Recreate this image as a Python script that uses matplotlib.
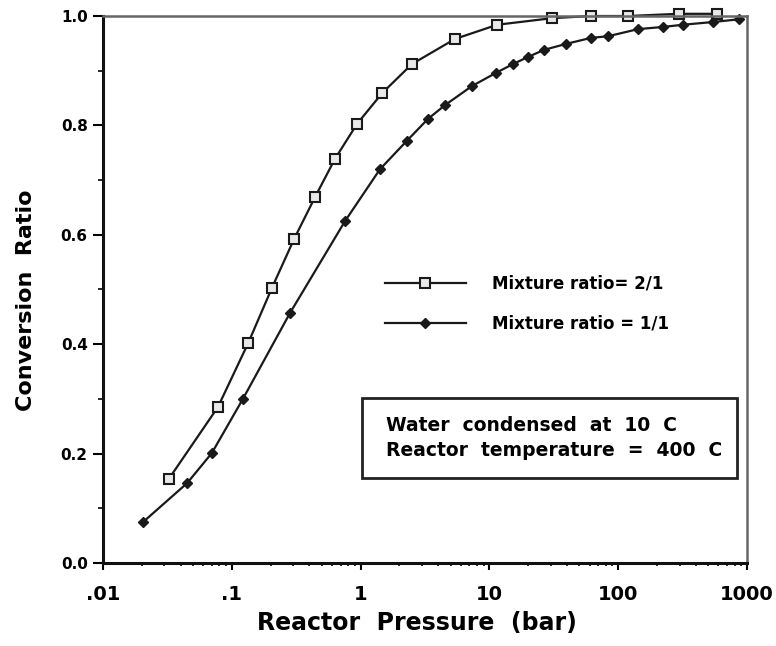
import matplotlib.pyplot as plt
from matplotlib.patches import Rectangle
from matplotlib.ticker import FixedLocator, NullFormatter, MultipleLocator, FixedFormatter

# === Daten ===
p_21 = [0.0325, 0.078, 0.134, 0.205, 0.304, 0.443, 0.633, 0.94, 1.47, 2.5,
        5.4, 11.5, 30.6, 61.5, 119, 297, 585]
conv_21 = [0.154, 0.285, 0.402, 0.503, 0.592, 0.669, 0.739, 0.803, 0.859, 0.912,
           0.958, 0.984, 0.996, 1.0, 1.0, 1.004, 1.004]

p_11 = [0.0205, 0.045, 0.070, 0.122, 0.283, 0.757, 1.415, 2.29, 3.34, 4.52,
        7.33, 11.25, 15.2, 19.9, 26.5, 39.4, 61.5, 83.4, 142.6, 223, 318, 545, 867]
conv_11 = [0.075, 0.146, 0.201, 0.300, 0.457, 0.625, 0.720, 0.772, 0.812, 0.837,
           0.872, 0.896, 0.912, 0.925, 0.938, 0.949, 0.960, 0.963, 0.976, 0.980,
           0.984, 0.989, 0.994]

x_ticks = [0.01, 0.1, 1, 10, 100, 1000]
x_ticklabels = [".01", ".1", "1", "10", "100", "1000"]
y_ticks = [0.0, 0.2, 0.4, 0.6, 0.8, 1.0]
y_ticklabels = ["0.0", "0.2", "0.4", "0.6", "0.8", "1.0"]

label_21 = "Mixture ratio= 2/1"
label_11 = "Mixture ratio = 1/1"
note_text = "Water  condensed  at  10  C\nReactor  temperature  =  400  C"

# === Stil ===
plt.rcParams['font.family'] = ['DejaVu Sans']
plt.rcParams['font.weight'] = 'bold'
line_color = "#1a1a1a"

fig = plt.figure(figsize=(7.76, 6.46), dpi=100)
ax = fig.add_axes([103 / 776, 1 - 563 / 646, 644 / 776, 547 / 646])

ax.plot(p_21, conv_21, color=line_color, lw=1.6, marker='s', markersize=7,
        markerfacecolor='#e8e8e8', markeredgecolor=line_color, markeredgewidth=1.5,
        label=label_21, clip_on=False)
ax.plot(p_11, conv_11, color=line_color, lw=1.6, marker='D', markersize=5,
        markerfacecolor=line_color, markeredgecolor=line_color,
        label=label_11, clip_on=False)

ax.set_xscale('log')
ax.set_xlim(0.01, 1000)
ax.set_ylim(0.0, 1.0)

ax.xaxis.set_major_locator(FixedLocator(x_ticks))
ax.xaxis.set_major_formatter(FixedFormatter(x_ticklabels))
ax.xaxis.set_minor_formatter(NullFormatter())
ax.yaxis.set_major_locator(FixedLocator(y_ticks))
ax.yaxis.set_major_formatter(FixedFormatter(y_ticklabels))
ax.yaxis.set_minor_locator(MultipleLocator(0.1))

ax.tick_params(axis='x', which='major', direction='out', length=5, width=1.5,
               labelsize=14, pad=11)
ax.tick_params(axis='x', which='minor', direction='out', length=2.5, width=1.2)
ax.tick_params(axis='y', which='major', direction='out', length=7, width=1.5,
               labelsize=11, pad=4)
ax.tick_params(axis='y', which='minor', direction='out', length=3.5, width=1.2)

for side in ['left', 'bottom']:
    ax.spines[side].set_linewidth(2.2)
    ax.spines[side].set_color('#111111')
for side in ['top', 'right']:
    ax.spines[side].set_linewidth(1.8)
    ax.spines[side].set_color('#666666')

ax.set_xlabel("Reactor  Pressure  (bar)", fontsize=17, fontweight='bold')
ax.xaxis.set_label_coords((417 - 103) / 644, -(611 - 563) / 547)
ax.set_ylabel("Conversion  Ratio", fontsize=16, fontweight='bold')
ax.yaxis.set_label_coords((36 - 103) / 644, 1 - (300 - 16) / 547)

leg = ax.legend(loc='upper left', bbox_to_anchor=((385 - 103) / 644, 1 - (275 - 16) / 547),
                frameon=False, fontsize=12, handlelength=4.85, handletextpad=1.6,
                labelspacing=1.3, borderpad=0, borderaxespad=0, numpoints=1)

# Kasten mit Versuchsbedingungen
ax.add_patch(Rectangle(((362 - 103) / 644, 1 - (478 - 16) / 547), (737 - 362) / 644,
                       (478 - 398) / 547, transform=ax.transAxes, facecolor='white',
                       edgecolor='#222222', linewidth=2.0, zorder=3))
ax.text((386 - 103) / 644, 1 - (438 - 16) / 547, note_text, transform=ax.transAxes,
        fontsize=13.5, fontweight='bold', va='center', ha='left', linespacing=1.35,
        zorder=4)

plt.savefig("out.png", dpi=100)
